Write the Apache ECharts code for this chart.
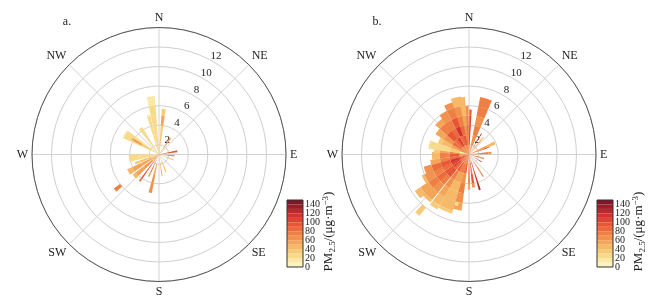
<!DOCTYPE html>
<html>
<head>
<meta charset="utf-8">
<script src="https://cdn.jsdelivr.net/npm/echarts@6/dist/echarts.min.js"></script>
<style>
  html, body { margin: 0; padding: 0; background: #fff; }
  #chart { width: 661px; height: 302px; }
</style>
</head>
<body>
<div id="chart"></div>
<script>
// wind speed axis (m/s) and compass labels
const speedMin = 1;
const speedMax = 14;
const compass = ['N', 'NE', 'E', 'SE', 'S', 'SW', 'W', 'NW'];

// colour key: PM2.5 bands of 10 ug/m3, ticks every 20
const pmBands = [
  '#fdf3c2', '#fae8a5', '#f8da8b', '#f6ca77', '#f5b967', '#f3a65a', '#f1934e', '#ef8044',
  '#ec6b3c', '#e85636', '#df4331', '#cf342f', '#ba282d', '#a01c2b', '#851428'
];
const pmMax = 150;

// [direction deg, width deg, reach m/s, PM2.5 for each 1 m/s step out from the centre]
const spokesA = [
  [352, 8, 7.0, [20, 25, 25, 20, 20, 15]],
  [345, 5, 5.2, [30, 25, 20, 20, 15]],
  [6, 5, 5.7, [30, 35, 30, 55, 35]],
  [325, 7, 4.3, [20, 25, 25, 20]],
  [301, 13, 5.1, [15, 15, 20, 20, 15]],
  [300, 4, 4.2, [null, 40, 60, 55]],
  [263, 14, 4.1, [20, 25, 25, 20]],
  [250, 6, 3.6, [40, 45, 35]],
  [240, 10, 4.6, [50, 55, 50, 45]],
  [228, 9, 4.4, [55, 60, 50, 40]],
  [216, 3, 4.4, [90, 100, 90, 80]],
  [231, 4, 6.8, [null, null, null, null, null, 70]],
  [193, 5, 5.0, [null, 50, 60, 65]],
  [205, 4, 3.5, [60, 70, 50]],
  [35, 4, 3.1, [50, 60, 55]],
  [80, 6, 2.9, [80, 90]],
  [95, 4, 2.6, [60, 70]],
  [110, 5, 2.6, [40, 35]],
  [158, 4, 2.9, [45, 40]],
  [172, 3, 3.2, [40, 50, 40]]
];

const spokesB = [
  [2, 3, 5.6, [90, 110, 110, 100, 90]],
  [357, 5, 6.0, [60, 70, 80, 70, 60]],
  [17, 12, 7.0, [55, 65, 70, 65, 75, 70]],
  [31, 2, 3.5, [90, 100, 110]],
  [40, 4, 3.3, [50, 40, 30]],
  [66, 7, 3.9, [60, 55, 45]],
  [70, 2, 3.2, [100, 110, 90]],
  [86, 6, 3.3, [60, 70, 60]],
  [105, 6, 2.6, [70, 60]],
  [120, 3, 2.5, [110, 120]],
  [147, 3, 3.7, [60, 70, 60]],
  [163, 3, 4.8, [90, 100, 110, 120]],
  [172, 5, 4.4, [80, 70, 90, 60]],
  [180, 4, 4.6, [60, 80, 70, 50]],
  [192, 9, 6.8, [70, 80, 60, 70, 60, 50]],
  [194, 4, 6.4, [null, null, null, null, null, 25]],
  [203, 14, 7.3, [60, 70, 50, 45, 40, 40, 35]],
  [214, 8, 7.5, [80, 90, 70, 60, 50, 40, 30]],
  [224, 10, 7.3, [70, 80, 90, 70, 60, 50, 40]],
  [232, 8, 7.7, [80, 100, 90, 80, 70, 55, 40]],
  [221, 4, 9.1, [null, null, null, null, null, null, null, 35, 30]],
  [241, 10, 6.3, [80, 100, 80, 70, 60, 40]],
  [250, 10, 5.8, [90, 110, 90, 80, 60]],
  [258, 8, 5.0, [70, 80, 70, 50]],
  [268, 12, 4.8, [60, 90, 70, 40]],
  [276, 6, 4.6, [60, 70, 50, 30]],
  [284, 12, 5.2, [10, 30, 25, 25, 20]],
  [296, 12, 4.4, [60, 50, 40, 30]],
  [306, 10, 5.0, [70, 80, 60, 50]],
  [318, 14, 5.6, [60, 80, 90, 70, 50]],
  [328, 10, 6.0, [70, 100, 80, 70, 60]],
  [338, 10, 6.6, [60, 80, 110, 90, 70, 60]],
  [347, 10, 7.0, [70, 90, 80, 70, 60, 45]],
  [353, 6, 6.9, [60, 70, 60, 50, 45, 40]]
];

const FONT = '"Liberation Serif", "Times New Roman", serif';
const panels = [
  { tag: 'a.', cx: 159, spokes: spokesA, bar: 287, unit: 329 },
  { tag: 'b.', cx: 469, spokes: spokesB, bar: 597, unit: 639 }
];
const CY = 154.5, R = 127;
const BAR_TOP = 200, BAR_H = 67, BAR_W = 16;

// split every spoke into radial cells [from, to, dir0, dir1, pm]
function toCells(spokes) {
  const out = [];
  spokes.forEach(([dir, width, reach, pms]) => {
    pms.forEach((pm, i) => {
      if (pm == null) return;
      const from = speedMin + i;
      const to = Math.min(speedMin + i + 1, reach);
      if (to <= from) return;
      out.push([from, to, dir - width / 2, dir + width / 2, pm]);
    });
  });
  return out;
}

function renderCell(params, api) {
  const cs = params.coordSys;
  const cx = cs.cx, cy = cs.cy;
  const rad = (v) => {
    const p = api.coord([v, 0]);
    return Math.hypot(p[0] - cx, p[1] - cy);
  };
  const ang = (d) => {
    const p = api.coord([speedMax, d]);
    return Math.atan2(p[1] - cy, p[0] - cx);
  };
  let a0 = ang(api.value(2));
  let a1 = ang(api.value(3));
  if (a1 < a0) a1 += Math.PI * 2;
  return {
    type: 'sector',
    shape: { cx, cy, r0: rad(api.value(0)), r: rad(api.value(1)), startAngle: a0, endAngle: a1, clockwise: true },
    style: { fill: api.visual('color') }
  };
}

const chart = echarts.init(document.getElementById('chart'), null, { renderer: 'canvas' });

const polar = [], angleAxis = [], radiusAxis = [], grid = [], xAxis = [], yAxis = [];
const series = [], graphic = [];
const keyLabel = { fontFamily: FONT, fontSize: 10, color: '#222' };

panels.forEach((p, k) => {
  // main rose
  polar.push({ center: [p.cx, CY], radius: R });
  angleAxis.push({
    polarIndex: 2 * k, type: 'value', min: 0, max: 360, interval: 45,
    startAngle: 90, clockwise: true,
    axisLine: { lineStyle: { color: '#555', width: 1 } },
    axisTick: { show: false },
    axisLabel: {
      margin: 4, fontFamily: FONT, fontSize: 12, color: '#222',
      formatter: (v) => compass[Math.round(v / 45) % 8]
    },
    splitLine: { lineStyle: { color: '#d2d2d2', width: 1 } }
  });
  radiusAxis.push({
    polarIndex: 2 * k, type: 'value', min: speedMin, max: speedMax, splitNumber: 7,
    axisLine: { show: false }, axisTick: { show: false }, axisLabel: { show: false },
    splitLine: { lineStyle: { color: '#cfcfcf', width: 1 } }
  });
  // overlay polar only carrying the speed labels along the 30 deg ray
  polar.push({ center: [p.cx, CY], radius: [6.5, R + 6.5] });
  angleAxis.push({ polarIndex: 2 * k + 1, type: 'value', min: 0, max: 360, startAngle: 60, show: false });
  radiusAxis.push({
    polarIndex: 2 * k + 1, type: 'value', min: speedMin, max: speedMax, splitNumber: 7,
    axisLine: { show: false }, axisTick: { show: false }, splitLine: { show: false },
    axisLabel: {
      margin: 0, align: 'center', verticalAlign: 'middle',
      fontFamily: FONT, fontSize: 11, color: '#222',
      formatter: (v) => (v === speedMin || v === speedMax ? '' : String(v))
    }
  });

  series.push({
    type: 'custom', coordinateSystem: 'polar', polarIndex: 2 * k,
    dimensions: ['from', 'to', 'd0', 'd1', 'pm'],
    encode: { radius: [0, 1], angle: [2, 3] },
    renderItem: renderCell, silent: true, z: 3,
    data: toCells(p.spokes)
  });

  // colour key: 20..140 labels on one axis, the 0 label on a twin so none gets dropped
  grid.push({ left: p.bar, top: BAR_TOP, width: BAR_W, height: BAR_H, show: false });
  xAxis.push({ gridIndex: k, type: 'category', data: [''], show: false });
  yAxis.push({
    gridIndex: k, type: 'value', min: 0, max: pmMax, interval: 20, position: 'right',
    axisLine: { show: false }, axisTick: { show: false }, splitLine: { show: false },
    axisLabel: Object.assign({ showMinLabel: false, showMaxLabel: false, margin: 2 }, keyLabel)
  });
  yAxis.push({
    gridIndex: k, type: 'value', min: 0, max: pmMax, interval: pmMax, position: 'right',
    axisLine: { show: false }, axisTick: { show: false }, splitLine: { show: false },
    axisLabel: Object.assign({ showMinLabel: true, showMaxLabel: false, margin: 2 }, keyLabel)
  });
  pmBands.forEach((c) => {
    series.push({
      type: 'bar', xAxisIndex: k, yAxisIndex: 2 * k, stack: 'key' + k, data: [10],
      barWidth: '100%', itemStyle: { color: c }, silent: true
    });
  });

  graphic.push({
    type: 'rect', z: 100,
    shape: { x: p.bar, y: BAR_TOP, width: BAR_W, height: BAR_H },
    style: { fill: 'none', stroke: '#333', lineWidth: 1 }
  });
  graphic.push({
    type: 'text', x: p.unit, y: BAR_TOP + BAR_H / 2 - 2, rotation: Math.PI / 2,
    style: {
      text: '{n|PM}{s|2.5}{n|/(μg·m}{p|−3}{n|)}',
      align: 'center', verticalAlign: 'middle', fill: '#222',
      rich: {
        n: { fontFamily: FONT, fontSize: 13, lineHeight: 16 },
        s: { fontFamily: FONT, fontSize: 9, lineHeight: 16, verticalAlign: 'bottom' },
        p: { fontFamily: FONT, fontSize: 9, lineHeight: 16, verticalAlign: 'top' }
      }
    }
  });
  graphic.push({
    type: 'text', x: p.cx - 92, y: 22,
    style: { text: p.tag, font: '12px ' + FONT, fill: '#222', align: 'center', verticalAlign: 'middle' }
  });
});

chart.setOption({
  animation: false,
  backgroundColor: '#fff',
  polar, angleAxis, radiusAxis, grid, xAxis, yAxis,
  visualMap: {
    type: 'piecewise', show: false, dimension: 4, seriesIndex: [0, 16],
    pieces: pmBands.map((c, i) => ({ gte: i * 10, lt: (i + 1) * 10, color: c }))
  },
  series,
  graphic
});
</script>
</body>
</html>
